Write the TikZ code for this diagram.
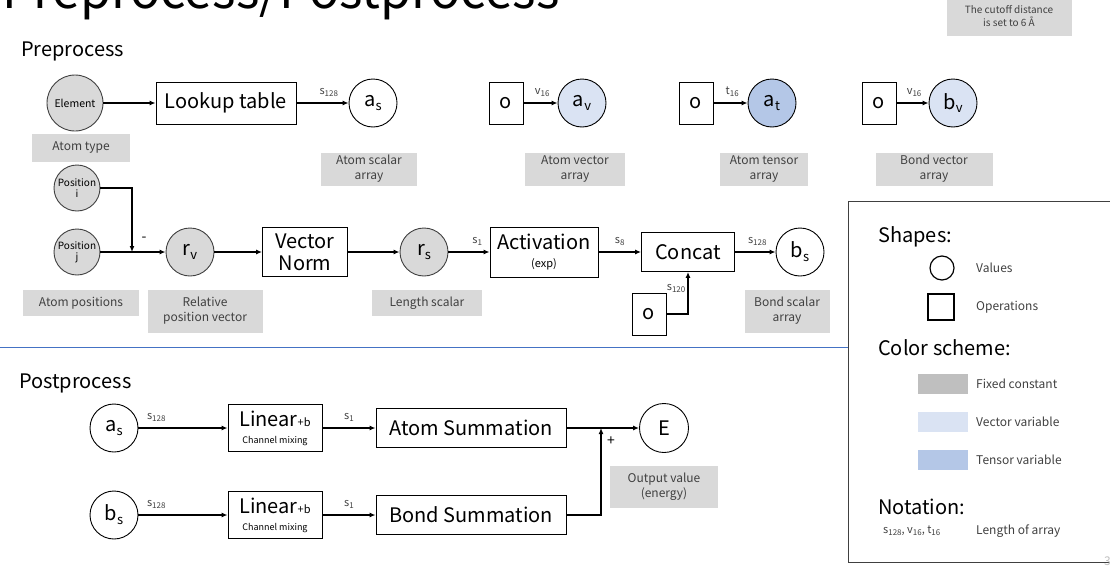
\documentclass[tikz,border=0pt]{standalone}
\usepackage{fontspec}
\setmainfont{Noto Sans CJK JP}
\usetikzlibrary{arrows.meta}
\definecolor{fixgray}{HTML}{D9D9D9}
\definecolor{keygray}{HTML}{BFBFBF}
\definecolor{vecblue}{HTML}{DAE3F3}
\definecolor{tenblue}{HTML}{B4C7E7}
\definecolor{rulblue}{HTML}{4472C4}
\definecolor{tagtext}{HTML}{404040}
\newcommand{\vsub}[2]{#1\raisebox{-0.35ex}{\fontsize{13}{13}\selectfont #2}}
\newcommand{\dimlbl}[2]{#1\raisebox{-0.35ex}{\fontsize{8}{8}\selectfont #2}}

\begin{document}
\begin{tikzpicture}[x=1pt, y=-1pt,
    val/.style={circle, draw=black, line width=0.9pt, minimum size=48pt, inner sep=0pt,
      font=\fontsize{20}{20}\selectfont},
    fixval/.style={val, fill=fixgray, draw=tagtext},
    op/.style={draw=black, line width=0.9pt, inner sep=0pt, align=center,
      font=\fontsize{20}{22}\selectfont},
    zerobox/.style={op, minimum width=34pt, minimum height=42pt},
    tag/.style={fill=fixgray, text=tagtext, inner sep=0pt, align=center,
      font=\fontsize{12}{15}\selectfont},
    dimtag/.style={text=tagtext, inner sep=0pt, font=\fontsize{11}{11}\selectfont},
    flow/.style={-{Latex[length=6pt,width=5pt]}, line width=1.3pt},
    heading/.style={anchor=base west, inner sep=0pt, font=\fontsize{20}{20}\selectfont},
    keytext/.style={anchor=west, inner sep=0pt, text=tagtext, font=\fontsize{12}{12}\selectfont}]
  \useasboundingbox (0,0) rectangle (1110,573);

  \node[anchor=base west, inner sep=0pt, font=\fontsize{50}{50}\selectfont] (title) at (2,8) {Preprocess/Postprocess};
  \node[tag, minimum width=125pt, minimum height=40pt, font=\fontsize{10}{13}\selectfont] (cutoff) at (1009,16)
    {The cutoff distance\\is set to 6 Å};

  % preprocess
  \node[heading] (pre) at (21,56) {Preprocess};

  \node[fixval, minimum size=56pt, font=\fontsize{10.5}{10.5}\selectfont] (elem) at (75,103) {Element};
  \node[op, minimum width=140pt, minimum height=42pt] (lookup) at (226,103) {Lookup table};
  \node[val] (as) at (373,103) {\vsub{a}{s}};
  \node[tag, minimum width=98pt, minimum height=28pt] (tagtype) at (81,148) {Atom type};
  \node[tag, minimum width=96pt, minimum height=33pt] (tagas) at (369,169) {Atom scalar\\array};
  \draw[flow] (elem) -- (lookup);
  \draw[flow] (lookup) -- (as) node[dimtag, pos=0.62, above=6pt] (las) {\dimlbl{s}{128}};

  \node[zerobox] (oav) at (506,103) {o};
  \node[val, fill=vecblue] (av) at (582,103) {\vsub{a}{v}};
  \node[tag, minimum width=100pt, minimum height=33pt] (tagav) at (575,169) {Atom vector\\array};
  \draw[flow] (oav) -- (av) node[dimtag, pos=0.55, above=6pt] (lav) {\dimlbl{v}{16}};

  \node[zerobox] (oat) at (696,103) {o};
  \node[val, fill=tenblue] (at) at (772,103) {\vsub{a}{t}};
  \node[tag, minimum width=88pt, minimum height=33pt] (tagat) at (764,169) {Atom tensor\\array};
  \draw[flow] (oat) -- (at) node[dimtag, pos=0.55, above=6pt] (lat) {\dimlbl{t}{16}};

  \node[zerobox] (obv) at (879,103) {o};
  \node[val, fill=vecblue] (bv) at (953,103) {\vsub{b}{v}};
  \node[tag, minimum width=117pt, minimum height=33pt] (tagbv) at (934,169) {Bond vector\\array};
  \draw[flow] (obv) -- (bv) node[dimtag, pos=0.55, above=6pt] (lbv) {\dimlbl{v}{16}};

  \node[fixval, minimum size=46pt, font=\fontsize{10}{11}\selectfont, align=center] (posi) at (77,188) {Position\\i};
  \node[fixval, minimum size=46pt, font=\fontsize{10}{11}\selectfont, align=center] (posj) at (77,252) {Position\\j};
  \node[fixval] (rv) at (190,252) {\vsub{r}{v}};
  \node[op, minimum width=85pt, minimum height=49pt] (vnorm) at (305,252) {Vector\\Norm};
  \node[fixval] (rs) at (424,252) {\vsub{r}{s}};
  \node[op, minimum width=108pt, minimum height=50pt] (act) at (544,252)
    {Activation\\[-4pt]{\fontsize{11}{11}\selectfont (exp)}};
  \node[op, minimum width=93pt, minimum height=39pt] (concat) at (688,252) {Concat};
  \node[val] (bs) at (800,252) {\vsub{b}{s}};
  \node[zerobox] (ocat) at (649,314) {o};
  \coordinate (mj) at (132,252);

  \node[tag, minimum width=116pt, minimum height=26pt] (tagpos) at (81,303) {Atom positions};
  \node[tag, minimum width=115pt, minimum height=43pt] (tagrv) at (205,311) {Relative\\position vector};
  \node[tag, minimum width=110pt, minimum height=26pt] (tagrs) at (427,303) {Length scalar};
  \node[tag, minimum width=85pt, minimum height=43pt] (tagbs) at (787,311) {Bond scalar\\array};

  \draw[flow] (posi.east) -| (mj);
  \draw[flow] (posj) -- (rv);
  \node[inner sep=0pt, font=\fontsize{14}{14}\selectfont] (minus) at (144,239) {-};
  \draw[flow] (rv) -- (vnorm);
  \draw[flow] (vnorm) -- (rs);
  \draw[flow] (rs) -- (act) node[dimtag, pos=0.7, above=6pt] (lrs) {\dimlbl{s}{1}};
  \draw[flow] (act) -- (concat) node[dimtag, pos=0.5, above=6pt] (lact) {\dimlbl{s}{8}};
  \draw[flow] (concat) -- (bs) node[dimtag, pos=0.55, above=6pt] (lcat) {\dimlbl{s}{128}};
  \draw[flow] (ocat.east) -| (concat.south) node[dimtag, pos=0.8, left=2pt] (locat) {\dimlbl{s}{120}};

  \draw[rulblue, line width=1pt] (0,347) -- (848,347);

  % postprocess
  \node[heading] (post) at (19,388) {Postprocess};

  \node[val] (pas) at (114,428) {\vsub{a}{s}};
  \node[op, minimum width=94pt, minimum height=47pt] (lin1) at (275,428)
    {Linear{\fontsize{11}{11}\selectfont +b}\\[-5pt]{\fontsize{9}{9}\selectfont Channel mixing}};
  \node[op, minimum width=190pt, minimum height=39pt] (atomsum) at (471,428) {Atom Summation};
  \node[val] (pbs) at (114,515) {\vsub{b}{s}};
  \node[op, minimum width=94pt, minimum height=47pt] (lin2) at (275,515)
    {Linear{\fontsize{11}{11}\selectfont +b}\\[-5pt]{\fontsize{9}{9}\selectfont Channel mixing}};
  \node[op, minimum width=190pt, minimum height=39pt] (bondsum) at (471,515) {Bond Summation};
  \node[val, minimum size=49pt] (E) at (664,428) {E};
  \node[tag, minimum width=108pt, minimum height=42pt] (tagE) at (664,487) {Output value\\(energy)};
  \coordinate (sumj) at (601,428);

  \draw[flow] (pas) -- (lin1) node[dimtag, pos=0.2, above=6pt] (lpas) {\dimlbl{s}{128}};
  \draw[flow] (lin1) -- (atomsum) node[dimtag, pos=0.5, above=6pt] (llin1) {\dimlbl{s}{1}};
  \draw[flow] (pbs) -- (lin2) node[dimtag, pos=0.2, above=6pt] (lpbs) {\dimlbl{s}{128}};
  \draw[flow] (lin2) -- (bondsum) node[dimtag, pos=0.5, above=6pt] (llin2) {\dimlbl{s}{1}};
  \draw[flow] (atomsum) -- (E);
  \draw[flow] (bondsum.east) -| (sumj);
  \node[inner sep=0pt, font=\fontsize{14}{14}\selectfont] (plus) at (611,441) {+};

  % key
  \draw[draw=tagtext, line width=0.9pt] (848,201) rectangle (1118,562);
  \node[heading] (kshape) at (878,242) {Shapes:};
  \node[circle, draw=black, line width=1.2pt, minimum size=24pt, inner sep=0pt] (kval) at (942,268) {};
  \node[keytext] (kvaltxt) at (976,268) {Values};
  \node[draw=black, line width=1.2pt, minimum size=26pt, inner sep=0pt] (kop) at (941,307) {};
  \node[keytext] (koptxt) at (976,307) {Operations};
  \node[heading] (kcol) at (878,355) {Color scheme:};
  \node[fill=keygray, minimum width=50pt, minimum height=20pt, inner sep=0pt] (kfix) at (943,384) {};
  \node[keytext] (kfixtxt) at (976,384) {Fixed constant};
  \node[fill=vecblue, minimum width=50pt, minimum height=20pt, inner sep=0pt] (kvec) at (943,422) {};
  \node[keytext] (kvectxt) at (976,422) {Vector variable};
  \node[fill=tenblue, minimum width=50pt, minimum height=20pt, inner sep=0pt] (kten) at (943,460) {};
  \node[keytext] (ktentxt) at (976,460) {Tensor variable};
  \node[heading] (knot) at (878,514) {Notation:};
  \node[dimtag, anchor=west] (kdim) at (883,531) {\dimlbl{s}{128}, \dimlbl{v}{16}, \dimlbl{t}{16}};
  \node[keytext] (kdimtxt) at (976,531) {Length of array};
  \node[anchor=west, inner sep=0pt, text=keygray, font=\fontsize{12}{12}\selectfont] (pageno) at (1104,561) {3};
\end{tikzpicture}
\end{document}
